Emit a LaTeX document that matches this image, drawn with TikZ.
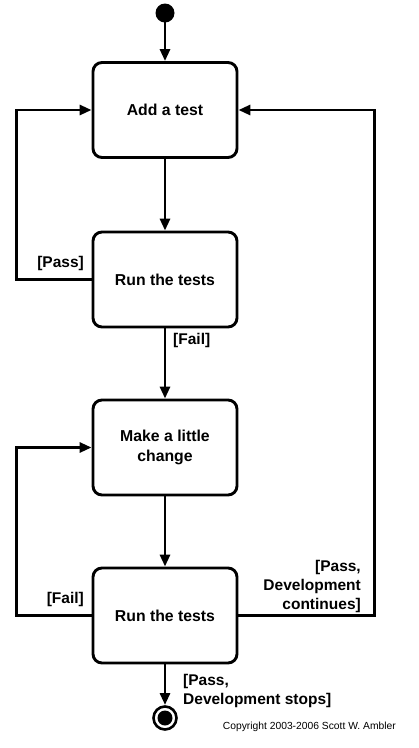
\documentclass[tikz,border=0pt]{standalone}
\usepackage{fontspec}
\setmainfont{Liberation Sans}
\usetikzlibrary{arrows.meta}

\tikzset{
  state/.style = {draw, line width=2.9pt, rounded corners=9pt, minimum width=144pt,
                  minimum height=95pt, align=center, font=\bfseries\fontsize{15.8}{20}\selectfont},
  guard/.style = {font=\bfseries\fontsize{15.5}{19}\selectfont, inner sep=0pt},
  flow/.style  = {line width=2.9pt, -{Triangle[length=12pt,width=10pt]}},
  link/.style  = {line width=2.9pt}
}

\begin{document}
\begin{tikzpicture}[x=1pt, y=-1pt]
  \useasboundingbox (0,0) rectangle (419,748);

  % Start and end
  \fill (165,13) circle (9.5);
  \coordinate (start) at (165,22);
  \draw[line width=2.6pt] (165,718) circle (11.5);
  \fill (165,718) circle (7.5);
  \coordinate (stop) at (165,705);

  % States
  \node[state] (add)    at (165,110)   {Add a test};
  \node[state] (run)    at (165,279.5) {Run the tests};
  \node[state] (change) at (165,447.5) {Make a little\\change};
  \node[state] (rerun)  at (165,615.5) {Run the tests};

  % Transitions
  \draw[flow] (start) -- (add.north);
  \draw[flow] (add.south) -- (run.north);
  \draw[flow] (run.south) -- (change.north);
  \draw[flow] (change.south) -- (rerun.north);
  \draw[flow] (rerun.south) -- (stop);

  % Loops back
  \draw[flow] (run.west) -- ++(-75,0) |- (add.west);
  \draw[flow] (rerun.west) -- ++(-75,0) |- (change.west);
  \draw[flow] (rerun.east) -- ++(136,0) |- (add.east);

  % Guards
  \node[guard, anchor=east] (pass1) at (84,263) {[Pass]};
  \node[guard, anchor=west] (fail1) at (173,340) {[Fail]};
  \node[guard, anchor=east] (fail2) at (84,599) {[Fail]};
  \node[guard, anchor=east, align=right] (goon) at (361,586) {[Pass,\\Development\\continues]};
  \node[guard, anchor=west, align=left] (done) at (183,691) {[Pass,\\Development stops]};

  % Copyright
  \node[anchor=east, inner sep=0pt, font=\fontsize{10.3}{12}\selectfont] (copy) at (396,727)
    {Copyright 2003-2006 Scott W. Ambler};
\end{tikzpicture}
\end{document}
